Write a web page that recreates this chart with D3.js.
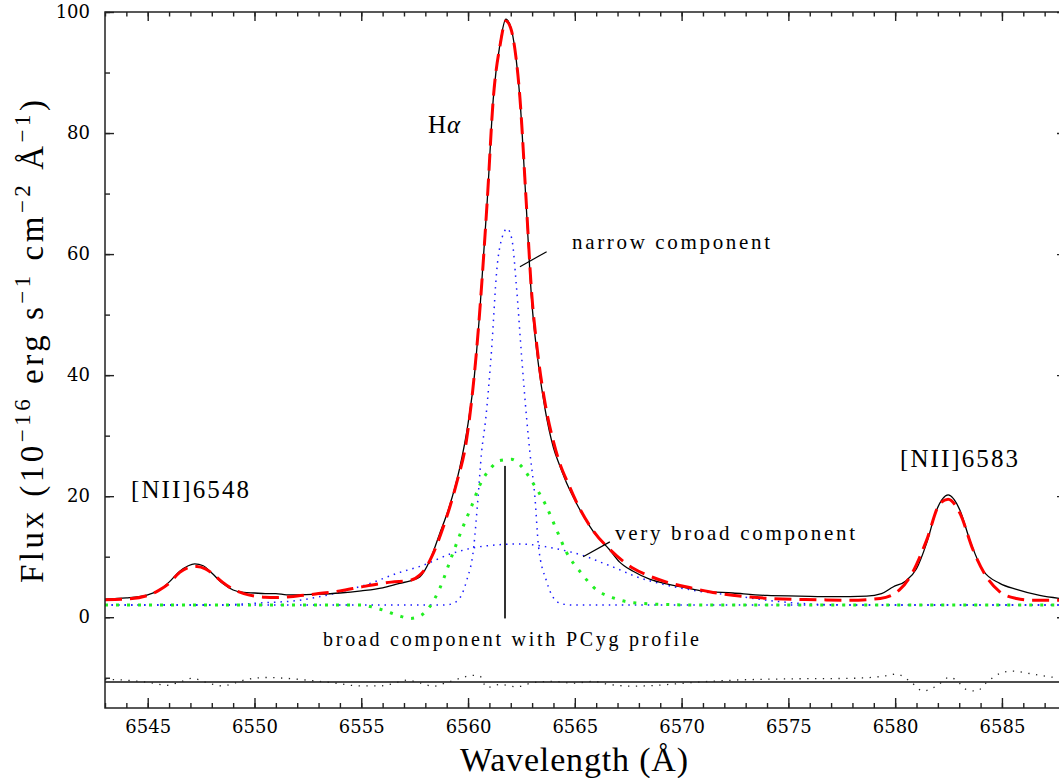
<!DOCTYPE html>
<html>
<head>
<meta charset="utf-8">
<script src="https://cdnjs.cloudflare.com/ajax/libs/d3/7.8.5/d3.min.js"></script>
<style>
  body { margin: 0; background: #fff; }
  svg { display: block; }
</style>
</head>
<body>
<div id="chart"></div>
<script>
// observed spectrum, [wavelength, flux]
var observed = [
  [6543.0, 3.0], [6544.0, 3.2], [6544.6, 3.4], [6545.0, 3.7], [6545.5, 4.4],
  [6546.0, 5.8], [6546.5, 7.6], [6546.9, 8.5], [6547.2, 8.8], [6547.6, 8.5],
  [6548.0, 7.3], [6548.5, 5.6], [6549.0, 4.5], [6549.5, 4.1], [6550.0, 4.0],
  [6550.5, 3.9], [6551.0, 3.9], [6551.5, 3.7], [6552.0, 3.7], [6553.0, 3.8],
  [6554.0, 4.0], [6555.0, 4.35], [6556.0, 4.85], [6556.8, 5.6], [6557.3, 6.0],
  [6557.75, 6.7], [6558.2, 9.3], [6558.65, 13.6], [6559.1, 18.0], [6559.6, 24.5],
  [6560.0, 32.0], [6560.3, 40.0], [6560.56, 51.0], [6560.9, 68.9], [6561.18, 85.6],
  [6561.5, 94.8], [6561.77, 98.8], [6562.0, 97.5], [6562.2, 93.7], [6562.43, 85.6],
  [6562.71, 68.9], [6562.98, 52.4], [6563.25, 43.0], [6563.6, 34.5], [6564.0, 28.0],
  [6564.3, 25.0], [6564.7, 21.5], [6565.08, 18.8], [6565.86, 14.2], [6566.64, 11.1],
  [6567.1, 9.1], [6567.73, 7.6], [6568.5, 6.3], [6569.3, 5.5], [6570.0, 5.0],
  [6570.86, 4.4], [6572.4, 4.0], [6574.0, 3.6], [6575.5, 3.5], [6577.1, 3.4],
  [6578.66, 3.5], [6579.36, 3.9], [6579.9, 5.0], [6580.5, 6.0], [6581.0, 8.0],
  [6581.47, 12.2], [6581.94, 17.7], [6582.48, 20.2], [6583.03, 17.7], [6583.5, 12.7],
  [6584.1, 7.8], [6584.9, 5.6], [6585.68, 4.6], [6586.77, 3.6], [6588.0, 3.0]
];

// total fitted model
var model = [
  [6543.0, 2.9], [6544.0, 3.0], [6545.0, 3.6], [6545.5, 4.4], [6546.0, 5.6],
  [6546.5, 7.4], [6547.0, 8.3], [6547.3, 8.4], [6547.7, 8.0], [6548.0, 7.3],
  [6548.5, 5.8], [6549.0, 4.6], [6549.5, 3.9], [6550.0, 3.5], [6550.5, 3.3],
  [6551.0, 3.25], [6552.0, 3.5], [6553.0, 3.9], [6554.0, 4.35], [6555.0, 5.0],
  [6556.0, 5.6], [6556.4, 5.8], [6557.3, 6.1], [6557.75, 7.0], [6558.0, 8.0],
  [6558.3, 10.0], [6558.84, 14.9], [6559.46, 22.1], [6559.93, 29.3], [6560.4, 44.1],
  [6560.9, 68.9], [6561.18, 85.6], [6561.5, 94.5], [6561.77, 98.5], [6562.0, 97.3],
  [6562.2, 93.7], [6562.43, 85.8], [6562.71, 69.5], [6562.98, 53.5], [6563.25, 44.0],
  [6563.6, 35.5], [6564.0, 29.0], [6564.3, 25.4], [6564.7, 22.0], [6565.08, 19.0],
  [6565.86, 14.3], [6566.64, 11.2], [6567.73, 8.1], [6568.5, 6.8], [6569.3, 5.8],
  [6570.5, 4.8], [6571.3, 4.2], [6573.2, 3.35], [6574.74, 3.0], [6576.3, 2.9],
  [6577.9, 2.8], [6579.3, 3.1], [6580.2, 4.5], [6580.8, 7.3], [6581.47, 12.7],
  [6582.1, 18.8], [6582.48, 19.5], [6583.03, 17.2], [6583.65, 11.1], [6584.27, 6.7],
  [6584.9, 4.2], [6585.68, 3.1], [6586.45, 2.8], [6588.0, 2.8]
];

var narrowComp = [
  [6543.0, 2.0], [6558.5, 2.0], [6559.0, 2.05], [6559.5, 2.7], [6559.93, 6.0],
  [6560.27, 11.7], [6560.47, 19.9], [6560.63, 27.1], [6560.82, 32.5], [6561.1, 44.1],
  [6561.35, 57.5], [6561.6, 62.8], [6561.83, 64.2], [6562.05, 62.5], [6562.27, 54.5],
  [6562.5, 43.5], [6562.74, 33.0], [6562.9, 27.1], [6563.13, 19.9], [6563.3, 11.7],
  [6563.67, 6.0], [6564.0, 3.2], [6564.4, 2.2], [6565.0, 2.0], [6588.0, 2.0]
];

var veryBroadComp = [
  [6543.0, 2.0], [6548.0, 2.0], [6549.0, 2.1], [6550.5, 2.4], [6552.1, 2.8],
  [6553.7, 3.9], [6555.25, 5.4], [6556.8, 7.4], [6557.75, 8.4], [6559.3, 10.6],
  [6560.86, 11.8], [6562.43, 12.1], [6564.0, 11.4], [6565.55, 10.0], [6566.2, 9.1],
  [6567.0, 8.0], [6567.73, 6.9], [6569.3, 5.3], [6570.8, 4.3], [6572.4, 3.6],
  [6574.0, 2.8], [6575.5, 2.3], [6577.1, 2.05], [6579.0, 2.0], [6588.0, 2.0]
];

var pcygComp = [
  [6543.0, 2.0], [6555.0, 2.0], [6555.6, 1.6], [6556.0, 1.2], [6556.4, 0.7],
  [6556.8, 0.2], [6557.3, -0.2], [6557.8, 0.3], [6558.2, 1.7], [6558.68, 4.8],
  [6559.23, 10.0], [6559.77, 15.0], [6560.16, 18.3], [6560.56, 21.9], [6561.1, 24.8],
  [6561.49, 25.9], [6562.04, 26.1], [6562.43, 25.2], [6563.05, 22.1], [6563.6, 18.8],
  [6564.15, 14.4], [6564.6, 10.8], [6565.3, 7.3], [6565.86, 5.0], [6566.87, 3.1],
  [6567.73, 2.4], [6569.3, 2.1], [6571.0, 2.0], [6588.0, 2.0]
];

// residuals (observed - model), drawn offset below zero
var residualLevel = -10.7;
var residuals = [
  [6543.0, -10.3], [6543.23, -10.3], [6544.3, -10.5], [6545.1, -10.8], [6545.9, -11.25],
  [6546.5, -10.7], [6547.1, -10.1], [6547.76, -10.8], [6548.5, -11.35], [6549.0, -10.95],
  [6549.5, -10.4], [6550.6, -9.96], [6551.5, -10.1], [6552.75, -10.5], [6553.7, -10.85],
  [6554.94, -11.35], [6555.87, -11.35], [6556.5, -10.95], [6557.12, -10.4], [6557.75, -10.85],
  [6558.37, -11.4], [6559.0, -10.8], [6559.62, -10.1], [6560.24, -9.6], [6560.56, -9.75],
  [6560.87, -11.6], [6561.5, -11.1], [6562.27, -11.5], [6563.05, -10.8], [6564.0, -10.6],
  [6564.93, -10.9], [6565.86, -10.6], [6566.56, -11.07], [6567.73, -11.4], [6568.83, -11.25],
  [6569.92, -10.95], [6570.86, -10.7], [6572.42, -10.4], [6574.76, -10.2], [6577.9, -10.1],
  [6579.44, -9.75], [6580.06, -9.4], [6580.77, -10.8], [6581.3, -12.2], [6581.94, -11.35],
  [6582.56, -9.9], [6582.95, -10.7], [6583.34, -11.96], [6583.81, -12.2], [6584.28, -10.8],
  [6584.9, -9.3], [6585.5, -8.9], [6586.3, -9.3], [6587.55, -9.96], [6588.0, -10.0]
];

var centreMark = [[6561.73, -0.2], [6561.73, 25.0]];
var narrowPointer = [[6562.43, 57.9], [6563.68, 60.4]];
var veryBroadPointer = [[6565.39, 10.0], [6566.64, 12.45]];

var xTicks = [6545, 6550, 6555, 6560, 6565, 6570, 6575, 6580, 6585];
var yTicks = [0, 20, 40, 60, 80, 100];

var width = 1059, height = 778;
var plotLeft = 105, plotRight = 1066, plotTop = 12, plotBottom = 708;

var svg = d3.select("#chart").append("svg")
    .attr("width", width)
    .attr("height", height);

svg.append("rect").attr("width", width).attr("height", height).attr("fill", "#fff");

var x = d3.scaleLinear().domain([6543, 6588]).range([plotLeft, plotRight]);
var y = d3.scaleLinear().domain([-15, 100]).range([plotBottom, plotTop]);

svg.append("clipPath").attr("id", "plot-clip")
  .append("rect")
    .attr("x", plotLeft).attr("y", plotTop)
    .attr("width", plotRight - plotLeft).attr("height", plotBottom - plotTop);

var line = d3.line()
    .x(function(d) { return x(d[0]); })
    .y(function(d) { return y(d[1]); })
    .curve(d3.curveMonotoneX);

var straight = d3.line()
    .x(function(d) { return x(d[0]); })
    .y(function(d) { return y(d[1]); });

var g = svg.append("g").attr("clip-path", "url(#plot-clip)");

// residual reference line
g.append("path")
    .attr("d", straight([[6543, residualLevel], [6588, residualLevel]]))
    .attr("fill", "none").attr("stroke", "#111").attr("stroke-width", 1.4);

g.append("path").datum(residuals)
    .attr("d", line)
    .attr("fill", "none").attr("stroke", "#222")
    .attr("stroke-width", 1.3).attr("stroke-dasharray", "1.3,6.5");

g.append("path").datum(veryBroadComp)
    .attr("d", line)
    .attr("fill", "none").attr("stroke", "#1a1aff")
    .attr("stroke-width", 1.5).attr("stroke-dasharray", "1.5,5");

g.append("path").datum(narrowComp)
    .attr("d", line)
    .attr("fill", "none").attr("stroke", "#1a1aff")
    .attr("stroke-width", 1.5).attr("stroke-dasharray", "1.5,5");

g.append("path").datum(pcygComp)
    .attr("d", line)
    .attr("fill", "none").attr("stroke", "#22ee22")
    .attr("stroke-width", 3).attr("stroke-dasharray", "3,8");

g.append("path").datum(observed)
    .attr("d", line)
    .attr("fill", "none").attr("stroke", "#000").attr("stroke-width", 1.3);

g.append("path").datum(model)
    .attr("d", line)
    .attr("fill", "none").attr("stroke", "#ff0000")
    .attr("stroke-width", 3).attr("stroke-dasharray", "17,8");

g.append("path")
    .attr("d", straight(centreMark))
    .attr("fill", "none").attr("stroke", "#333").attr("stroke-width", 2);

[narrowPointer, veryBroadPointer].forEach(function(p) {
  g.append("path")
      .attr("d", straight(p))
      .attr("fill", "none").attr("stroke", "#000").attr("stroke-width", 1.2);
});

// axes, ticks pointing inward
function styleAxis(sel) {
  sel.select(".domain").remove();
  sel.selectAll(".tick line").attr("stroke", "#222").attr("stroke-width", 1.4);
  sel.selectAll(".tick text")
      .attr("fill", "#000")
      .style("font-family", "'DejaVu Serif', serif")
      .style("font-size", "18px");
}

svg.append("g").attr("transform", "translate(0," + plotBottom + ")")
    .call(d3.axisBottom(x).ticks(45).tickSize(-5).tickFormat(""))
    .call(styleAxis);
svg.append("g").attr("transform", "translate(0," + plotBottom + ")")
    .call(d3.axisBottom(x).tickValues(xTicks).tickSize(-10).tickPadding(12).tickFormat(d3.format("d")))
    .call(styleAxis);
svg.append("g").attr("transform", "translate(0," + plotTop + ")")
    .call(d3.axisTop(x).ticks(45).tickSize(-4.5).tickFormat(""))
    .call(styleAxis);
svg.append("g").attr("transform", "translate(0," + plotTop + ")")
    .call(d3.axisTop(x).tickValues(xTicks).tickSize(-9).tickFormat(""))
    .call(styleAxis);

svg.append("g").attr("transform", "translate(" + plotLeft + ",0)")
    .call(d3.axisLeft(y).ticks(12).tickSize(-5).tickFormat(""))
    .call(styleAxis);
svg.append("g").attr("transform", "translate(" + plotLeft + ",0)")
    .call(d3.axisLeft(y).tickValues(yTicks).tickSize(-9).tickPadding(15).tickFormat(d3.format("d")))
    .call(styleAxis);
svg.append("g").attr("transform", "translate(" + plotRight + ",0)")
    .call(d3.axisRight(y).ticks(12).tickSize(-5).tickFormat(""))
    .call(styleAxis);
svg.append("g").attr("transform", "translate(" + plotRight + ",0)")
    .call(d3.axisRight(y).tickValues(yTicks).tickSize(-9).tickFormat(""))
    .call(styleAxis);

svg.append("rect")
    .attr("x", plotLeft).attr("y", plotTop)
    .attr("width", plotRight - plotLeft).attr("height", plotBottom - plotTop)
    .attr("fill", "none").attr("stroke", "#222").attr("stroke-width", 1.5);

// labels
var serif = "'Liberation Serif', 'Times New Roman', serif";

function label(txt, px, py, size, len) {
  var t = svg.append("text")
      .attr("x", px).attr("y", py)
      .style("font-family", serif)
      .style("font-size", size + "px")
      .attr("fill", "#000")
      .text(txt);
  if (len) t.attr("textLength", len).attr("lengthAdjust", "spacing");
  return t;
}

label("narrow component", 572, 249, 21, 198);
label("very broad component", 615, 540, 21, 240);
label("broad component with PCyg profile", 323, 646, 20, 376);
label("[NII]6548", 131, 498, 25, 118);
label("[NII]6583", 900, 467, 25, 118);

var ha = svg.append("text")
    .attr("x", 428).attr("y", 133)
    .style("font-family", serif)
    .style("font-size", "25px")
    .attr("fill", "#000");
ha.append("tspan").text("H");
ha.append("tspan").style("font-style", "italic").attr("dx", 1).text("α");

label("Wavelength (Å)", 460, 771, 34, 228);

var yl = svg.append("text")
    .attr("transform", "translate(43,583) rotate(-90)")
    .style("font-family", serif)
    .style("font-size", "33px")
    .attr("fill", "#000")
    .attr("textLength", 483)
    .attr("lengthAdjust", "spacing");
yl.append("tspan").text("Flux (10");
yl.append("tspan").attr("dy", -13).style("font-size", "23px").text("−16");
yl.append("tspan").attr("dy", 13).text(" erg s");
yl.append("tspan").attr("dy", -13).style("font-size", "23px").text("−1");
yl.append("tspan").attr("dy", 13).text(" cm");
yl.append("tspan").attr("dy", -13).style("font-size", "23px").text("−2");
yl.append("tspan").attr("dy", 13).text(" Å");
yl.append("tspan").attr("dy", -13).style("font-size", "23px").text("−1");
yl.append("tspan").attr("dy", 13).text(")");
</script>
</body>
</html>
